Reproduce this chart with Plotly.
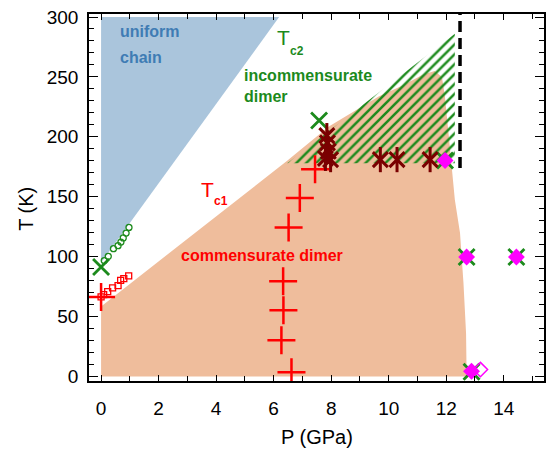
import plotly.graph_objects as go

# ---------------- data ----------------
# region outlines (P in GPa, T in K)
uniform_P = [0.0, 0.0, 6.19]
uniform_T = [95, 300, 300]

comm_P = [0.0, 0.0, 6.47, 7.92, 9.65, 10.5, 11.2, 11.6, 11.85, 11.95, 12.08, 12.25, 12.3, 12.48, 12.6, 12.69, 12.71]
comm_T = [0.0, 58.5, 180, 208.6, 233.6, 243, 252, 255, 250, 235, 203, 164, 147.5, 119.7, 78, 36, 0.0]

incomm_P = [6.47, 12.3, 12.3]
incomm_T = [178, 178, 286]

boundary_P = [12.48, 12.48]
boundary_T = [174, 302.5]

# markers
red_plus_P = [0.0, 6.62, 6.27, 6.34, 6.33, 6.52, 6.91, 7.44]
red_plus_T = [66.4, 3.6, 30.3, 55.3, 79.4, 124.4, 149, 173]

red_sq_P = [0.0, 0.09, 0.23, 0.40, 0.59, 0.68, 0.79, 0.96]
red_sq_T = [66.4, 68.3, 70.8, 73.9, 75.8, 80.3, 81.7, 83.9]

green_circ_P = [0.11, 0.25, 0.43, 0.59, 0.69, 0.77, 0.87, 0.97]
green_circ_T = [96.7, 100.3, 106.7, 109.2, 112.2, 115.6, 119.7, 124.4]

green_x_P = [0.0, 7.58, 12.71, 14.44, 12.88, 11.96]
green_x_T = [91.4, 213.6, 99.7, 99.7, 4.0, 180.3]

star_P = [7.85, 7.87, 7.9, 7.8, 7.98, 9.71, 10.29, 11.44]
star_T = [201, 195, 188, 182, 181, 181, 181, 181]

mag_fill_P = [11.96, 12.71, 14.44, 12.88]
mag_fill_T = [180.3, 99.7, 99.7, 4.4]

mag_open_P = [13.19]
mag_open_T = [5.8]

x_ticks = [0, 2, 4, 6, 8, 10, 12, 14]
y_ticks = [0, 50, 100, 150, 200, 250, 300]

# ---------------- style ----------------
FONT = "Liberation Sans, Arial, sans-serif"
GREEN = "#1c8a1c"
RED = "#ff0000"
BLUE_TXT = "#3f7cb4"
MAROON = "#7a0000"
MAGENTA = "#ff00ff"

fig = go.Figure()

fig.add_trace(go.Scatter(x=uniform_P, y=uniform_T, fill="toself", mode="lines",
                         fillcolor="#aac5dc", line=dict(width=0), hoverinfo="skip"))
fig.add_trace(go.Scatter(x=comm_P, y=comm_T, fill="toself", mode="lines",
                         fillcolor="#efbd9c", line=dict(width=0), hoverinfo="skip"))
fig.add_trace(go.Scatter(x=incomm_P, y=incomm_T, fill="toself", mode="lines",
                         fillcolor="rgba(0,0,0,0)", line=dict(width=0),
                         fillpattern=dict(shape="/", fgcolor=GREEN, bgcolor="rgba(0,0,0,0)",
                                          size=7, solidity=0.36, fillmode="replace"),
                         hoverinfo="skip"))
fig.add_trace(go.Scatter(x=boundary_P, y=boundary_T, mode="lines",
                         line=dict(color="black", width=3.5, dash="11px,6px")))

fig.add_trace(go.Scatter(x=green_circ_P, y=green_circ_T, mode="markers",
                         marker=dict(symbol="circle-open", size=6, color=GREEN, line=dict(width=1.3))))
fig.add_trace(go.Scatter(x=red_sq_P, y=red_sq_T, mode="markers",
                         marker=dict(symbol="square-open", size=6, color=RED, line=dict(width=1.3))))
fig.add_trace(go.Scatter(x=red_plus_P, y=red_plus_T, mode="markers",
                         marker=dict(symbol="cross-thin", size=20, color=RED, line=dict(width=2.5, color=RED))))
fig.add_trace(go.Scatter(x=green_x_P, y=green_x_T, mode="markers",
                         marker=dict(symbol="x-thin", size=16, color=GREEN, line=dict(width=2.8, color=GREEN))))
fig.add_trace(go.Scatter(x=star_P, y=star_T, mode="markers",
                         marker=dict(symbol="x-thin", size=15, color=MAROON, line=dict(width=3, color=MAROON))))
fig.add_trace(go.Scatter(x=star_P, y=star_T, mode="markers",
                         marker=dict(symbol="line-ns", size=18, color=MAROON, line=dict(width=3, color=MAROON))))
fig.add_trace(go.Scatter(x=mag_fill_P, y=mag_fill_T, mode="markers",
                         marker=dict(symbol="diamond", size=13, color=MAGENTA, line=dict(width=0))))
fig.add_trace(go.Scatter(x=mag_open_P, y=mag_open_T, mode="markers",
                         marker=dict(symbol="diamond-open", size=11, color=MAGENTA, line=dict(width=1.5))))

ann = []
def txt(x, y, s, color, size, bold=True, xanchor="center"):
    ann.append(dict(x=x, y=y, xref="x", yref="y", text=(f"<b>{s}</b>" if bold else s),
                    showarrow=False, xanchor=xanchor, yanchor="middle",
                    borderpad=0, borderwidth=0,
                    font=dict(family=FONT, size=size, color=color)))

txt(0.66, 287.8, "uniform", BLUE_TXT, 16, xanchor="left")
txt(0.66, 265.8, "chain", BLUE_TXT, 16, xanchor="left")
txt(6.56, 282.8, "T", GREEN, 21, bold=False, xanchor="right")
txt(6.56, 272.0, "c2", GREEN, 12, xanchor="left")
txt(4.98, 250.8, "incommensurate", GREEN, 16, xanchor="left")
txt(4.98, 233.3, "dimer", GREEN, 16, xanchor="left")
txt(3.91, 156.0, "T", RED, 21, bold=False, xanchor="right")
txt(3.91, 146.5, "c1", RED, 12, xanchor="left")
txt(5.59, 101.0, "commensurate dimer", RED, 16)

ann.append(dict(x=0.5, y=-0.152, xref="paper", yref="paper", text="P (GPa)", showarrow=False,
                xanchor="center", yanchor="middle", font=dict(family=FONT, size=20, color="black")))
ann.append(dict(x=-0.140, y=0.47, xref="paper", yref="paper", text="T (K)", showarrow=False,
                textangle=-90, xanchor="center", yanchor="middle",
                font=dict(family=FONT, size=20, color="black")))

axis_common = dict(showline=True, linecolor="black", linewidth=1.5, mirror="allticks",
                   ticks="inside", tickcolor="black", tickwidth=1.3, showgrid=False, zeroline=False,
                   tickfont=dict(family=FONT, size=19, color="black"))

fig.update_layout(
    width=547, height=451,
    margin=dict(l=89, r=1, t=14, b=70),
    paper_bgcolor="white", plot_bgcolor="white",
    showlegend=False,
    annotations=ann,
    xaxis=dict(range=[-0.42, 15.4], tickvals=x_ticks, ticktext=[str(v) for v in x_ticks],
               ticklen=6, ticklabelstandoff=9,
               minor=dict(dtick=1, tick0=0, ticks="inside", ticklen=5, tickcolor="black", tickwidth=1.2),
               **axis_common),
    yaxis=dict(range=[-3.75, 302.5], tickvals=y_ticks, ticktext=[str(v) for v in y_ticks],
               ticklen=9, ticklabelstandoff=5,
               minor=dict(dtick=10, tick0=0, ticks="inside", ticklen=5, tickcolor="black", tickwidth=1.2),
               **axis_common),
)

fig.write_html("out.html")
